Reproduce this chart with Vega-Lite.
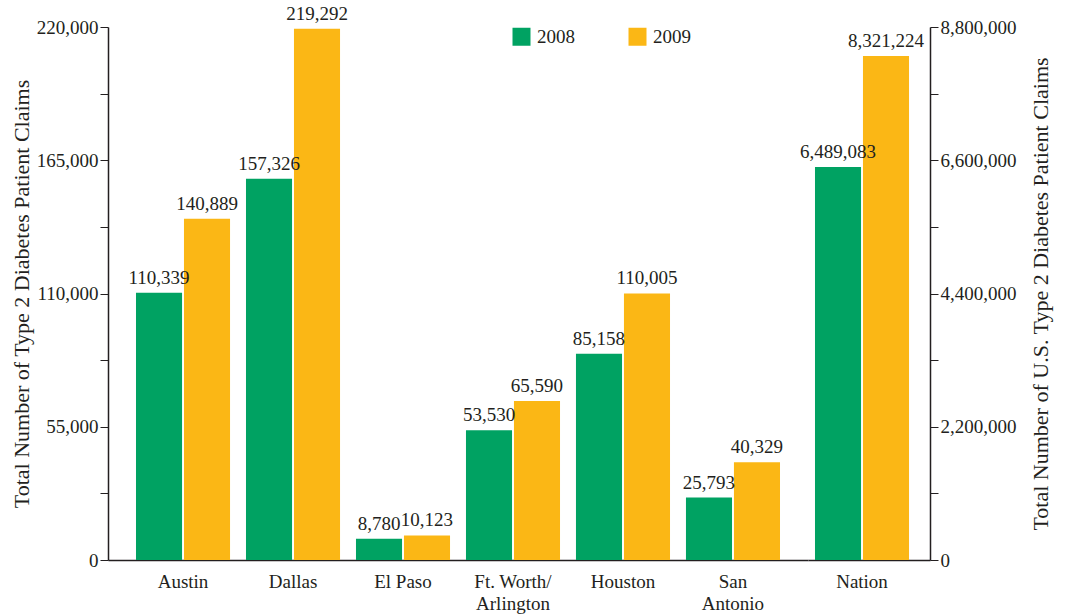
{
  "$schema": "https://vega.github.io/schema/vega-lite/v6.json",
  "padding": {"left": 10, "top": 4, "right": 10, "bottom": 2},
  "bounds": "flush",
  "background": "white",
  "config": {
    "font": "Liberation Serif",
    "view": {"stroke": null},
    "concat": {"spacing": 0},
    "axis": {"labelFont": "Liberation Serif", "titleFont": "Liberation Serif", "labelColor": "#231f20", "titleColor": "#231f20", "domainColor": "#231f20", "tickColor": "#231f20", "grid": false, "labelFontSize": 19, "titleFontSize": 22, "titleFontWeight": "normal"}
  },
  "datasets": {
    "cities": [
      {"region": "Austin", "year": "2008", "claims": 110339},
      {"region": "Austin", "year": "2009", "claims": 140889},
      {"region": "Dallas", "year": "2008", "claims": 157326},
      {"region": "Dallas", "year": "2009", "claims": 219292},
      {"region": "El Paso", "year": "2008", "claims": 8780},
      {"region": "El Paso", "year": "2009", "claims": 10123},
      {"region": "Ft. Worth/Arlington", "year": "2008", "claims": 53530},
      {"region": "Ft. Worth/Arlington", "year": "2009", "claims": 65590},
      {"region": "Houston", "year": "2008", "claims": 85158},
      {"region": "Houston", "year": "2009", "claims": 110005},
      {"region": "San Antonio", "year": "2008", "claims": 25793},
      {"region": "San Antonio", "year": "2009", "claims": 40329}
    ],
    "nation": [
      {"region": "Nation", "year": "2008", "claims": 6489083},
      {"region": "Nation", "year": "2009", "claims": 8321224}
    ]
  },
  "hconcat": [
    {
      "width": 700,
      "height": 533,
      "data": {"name": "cities"},
      "encoding": {
        "x": {"field": "region", "type": "nominal", "sort": null, "title": null,
          "scale": {"paddingInner": 0.145, "paddingOuter": 0.2545},
          "axis": {"labelAngle": 0, "ticks": false, "labelPadding": 12, "domainWidth": 1.5, "labelLineHeight": 22,
            "labelExpr": "datum.value == 'Ft. Worth/Arlington' ? ['Ft. Worth/', 'Arlington'] : datum.value == 'San Antonio' ? ['San', 'Antonio'] : datum.value"}},
        "xOffset": {"field": "year", "type": "nominal", "scale": {"paddingInner": 0.04}},
        "y": {"field": "claims", "type": "quantitative",
          "scale": {"domain": [0, 220000], "nice": false},
          "title": "Total Number of Type 2 Diabetes Patient Claims",
          "axis": {"values": [0, 27500, 55000, 82500, 110000, 137500, 165000, 192500, 220000],
            "labelExpr": "datum.value % 55000 == 0 ? format(datum.value, ',') : ''",
            "tickSize": 8, "domainWidth": 1.5, "labelPadding": 2, "titlePadding": 3}}
      },
      "layer": [
        {"mark": {"type": "bar"},
          "encoding": {"color": {"field": "year", "type": "nominal",
            "scale": {"domain": ["2008", "2009"], "range": ["#00a262", "#fbb715"]},
            "legend": {"title": null, "orient": "none", "legendX": 404, "legendY": 0, "direction": "horizontal",
              "symbolType": "square", "symbolSize": 324, "symbolStrokeWidth": 0, "labelFontSize": 19,
              "labelFont": "Liberation Serif", "labelColor": "#231f20", "columnPadding": 53, "labelOffset": 6}}}},
        {"mark": {"type": "text", "baseline": "bottom", "dy": -5, "fontSize": 19, "color": "#231f20"},
          "encoding": {"text": {"field": "claims", "type": "quantitative", "format": ","}}}
      ]
    },
    {
      "width": 122,
      "height": 533,
      "data": {"name": "nation"},
      "encoding": {
        "x": {"field": "region", "type": "nominal", "title": null,
          "scale": {"paddingInner": 0.145, "paddingOuter": 0.127, "align": 0.25},
          "axis": {"labelAngle": 0, "ticks": false, "labelPadding": 12, "domainWidth": 1.5}},
        "xOffset": {"field": "year", "type": "nominal", "scale": {"paddingInner": 0.04}},
        "y": {"field": "claims", "type": "quantitative",
          "scale": {"domain": [0, 8800000], "nice": false},
          "title": "Total Number of U.S. Type 2 Diabetes Patient Claims",
          "axis": {"orient": "right", "values": [0, 1100000, 2200000, 3300000, 4400000, 5500000, 6600000, 7700000, 8800000],
            "labelExpr": "datum.value % 2200000 == 0 ? format(datum.value, ',') : ''",
            "tickSize": 8, "domainWidth": 1.5, "labelPadding": 2, "titlePadding": 36, "titleAngle": 270}}
      },
      "layer": [
        {"mark": {"type": "bar"},
          "encoding": {"color": {"field": "year", "type": "nominal"}}},
        {"mark": {"type": "text", "baseline": "bottom", "dy": -5, "fontSize": 19, "color": "#231f20"},
          "encoding": {"text": {"field": "claims", "type": "quantitative", "format": ","}}}
      ]
    }
  ]
}
